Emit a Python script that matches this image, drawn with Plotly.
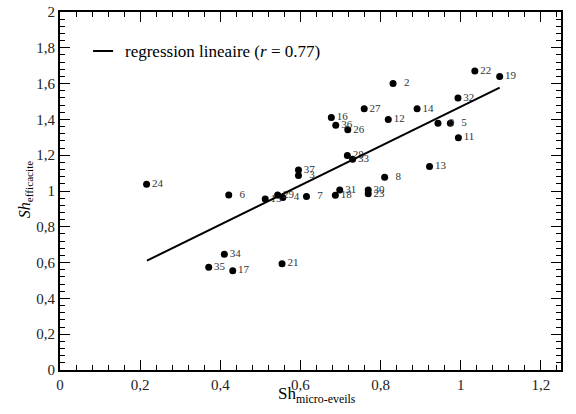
import plotly.graph_objects as go

# data
labels = ["24", "6", "15", "29", "4", "7", "37", "3", "34", "35", "17", "21",
          "28", "33", "13", "8", "31", "18", "30", "23",
          "22", "19", "2", "32", "27", "14", "12", "16", "36", "26", "9", "5", "11"]
sh_micro = [0.216, 0.421, 0.512, 0.543, 0.556, 0.615, 0.595, 0.595, 0.410, 0.371, 0.431, 0.554,
            0.717, 0.730, 0.922, 0.810, 0.698, 0.687, 0.769, 0.769,
            1.035, 1.097, 0.831, 0.993, 0.759, 0.891, 0.819, 0.677, 0.688, 0.718, 0.943, 0.974, 0.994]
sh_eff = [1.038, 0.978, 0.956, 0.978, 0.963, 0.969, 1.118, 1.086, 0.647, 0.574, 0.555, 0.594,
          1.198, 1.178, 1.137, 1.077, 1.006, 0.976, 1.006, 0.984,
          1.670, 1.640, 1.600, 1.520, 1.459, 1.459, 1.399, 1.411, 1.368, 1.342, 1.379, 1.379, 1.298]
reg_x = [0.217, 1.097]
reg_y = [0.611, 1.578]
legend_text = "regression lineaire (<i>r</i> = 0.77)"
x_title = "Sh<sub>micro-eveils</sub>"
y_title = "<i>Sh</i><sub>efficacite</sub>"

font = "'Liberation Serif', 'Times New Roman', Times, serif"
pad = "\u00a0\u00a0"
texts = [(pad + t) if len(t) == 1 else t for t in labels]

fig = go.Figure()
fig.add_trace(go.Scatter(
    x=sh_micro, y=sh_eff, mode="markers+text", text=texts,
    textposition="middle right",
    textfont=dict(family=font, size=11, color="#333333"),
    marker=dict(size=7, color="black"), showlegend=False, cliponaxis=False))
fig.add_trace(go.Scatter(
    x=reg_x, y=reg_y, mode="lines", line=dict(color="black", width=2),
    name=legend_text, showlegend=False))

axis_common = dict(showline=True, linecolor="black", linewidth=2, mirror="ticks",
                   ticks="inside", ticklen=10, tickwidth=1, tickcolor="black",
                   showgrid=False, zeroline=False, automargin=False,
                   tickfont=dict(family=font, size=15, color="#222222"),
                   minor=dict(ticks="inside", ticklen=5, tickwidth=1, tickcolor="black", dtick=0.04))
fig.update_xaxes(range=[0, 1.25], dtick=0.2, tick0=0, **axis_common)
fig.update_yaxes(range=[0, 2], dtick=0.2, tick0=0, **axis_common)

# legend drawn by hand (short line sample as in the reference)
fig.add_shape(type="line", xref="paper", yref="paper", x0=0.066, x1=0.106, y0=0.891, y1=0.891,
              line=dict(color="black", width=2))
fig.add_annotation(xref="paper", yref="paper", x=0.125, y=0.891, xanchor="left", yanchor="middle",
                   text=legend_text, showarrow=False, font=dict(family=font, size=17, color="black"))
# axis titles
fig.add_annotation(xref="paper", yref="paper", x=0.513, y=-0.07, xanchor="center", yanchor="middle",
                   text=x_title, showarrow=False, font=dict(family=font, size=17, color="black"))
fig.add_annotation(xref="paper", yref="paper", x=-0.07, y=0.505, xanchor="center", yanchor="middle",
                   text=y_title, textangle=-90, showarrow=False,
                   font=dict(family=font, size=16, color="black"))

fig.update_layout(
    width=576, height=414,
    margin=dict(l=60, r=15, t=12, b=44),
    plot_bgcolor="white", paper_bgcolor="white",
    separators=", ",
    font=dict(family=font, color="black"),
    showlegend=False,
)
fig.write_html("out.html", config={"displayModeBar": False},
               post_script="document.body.style.margin='0';")
